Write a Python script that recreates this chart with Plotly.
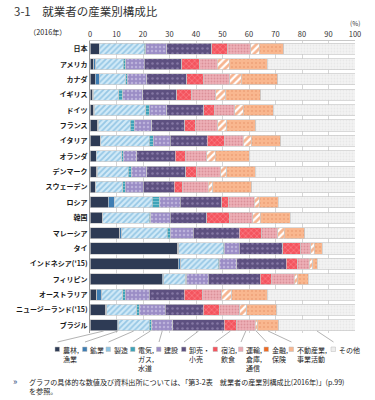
import plotly.graph_objects as go

countries = ["日本", "アメリカ", "カナダ", "イギリス", "ドイツ", "フランス", "イタリア",
             "オランダ", "デンマーク", "スウェーデン", "ロシア", "韓国", "マレーシア", "タイ",
             "インドネシア('15)", "フィリピン", "オーストラリア", "ニュージーランド('15)", "ブラジル"]

agri      = [3.4, 1.5, 1.9, 1.0, 1.4, 2.9, 4.0, 2.3, 2.6, 1.9, 6.9, 4.8, 11.3, 33.1, 33.3, 27.3, 2.5, 6.0, 10.3]
mining    = [0.1, 0.6, 1.5, 0.2, 0.2, 0.2, 0.1, 0.1, 0.1, 0.2, 2.2, 0.1, 0.7, 0.3, 0.9, 0.5, 1.9, 0.3, 0.4]
manuf     = [16.9, 10.5, 10.1, 9.7, 19.4, 12.0, 18.3, 9.6, 11.8, 10.2, 14.4, 17.4, 17.2, 16.9, 14.2, 8.4, 7.9, 11.3, 11.6]
utility   = [0.7, 0.9, 0.5, 1.4, 1.3, 1.6, 1.5, 0.6, 1.0, 1.0, 2.9, 0.6, 1.0, 0.4, 0.4, 0.3, 1.0, 0.9, 1.0]
constr    = [7.8, 6.9, 7.5, 7.6, 6.6, 6.6, 6.3, 5.0, 5.9, 6.8, 7.6, 7.3, 8.8, 5.6, 6.5, 8.1, 9.0, 9.8, 7.9]
wholesale = [17.0, 14.2, 15.0, 12.8, 14.1, 12.5, 14.1, 14.5, 14.8, 11.7, 15.7, 13.8, 17.3, 16.4, 18.7, 19.6, 13.3, 14.5, 19.5]
accom     = [6.1, 6.9, 6.5, 5.7, 3.9, 4.1, 6.3, 4.1, 4.1, 3.2, 2.5, 8.8, 8.5, 6.8, 4.2, 4.4, 6.9, 5.9, 4.6]
transport = [8.6, 6.5, 9.8, 9.0, 7.8, 8.3, 7.3, 7.8, 9.0, 9.6, 9.7, 8.6, 6.0, 3.8, 4.6, 8.5, 7.2, 7.9, 7.0]
finance   = [3.3, 4.5, 4.2, 3.8, 3.2, 3.4, 2.9, 3.2, 2.3, 1.7, 2.0, 2.8, 2.5, 1.3, 1.2, 1.1, 3.8, 2.5, 0.8]
realestate= [9.3, 14.4, 13.8, 13.2, 11.3, 10.9, 11.1, 12.9, 10.7, 14.7, 7.2, 11.3, 7.8, 3.1, 1.8, 4.2, 13.4, 11.3, 8.2]
other     = [26.8, 33.1, 29.2, 35.6, 30.8, 37.5, 28.1, 39.9, 37.7, 39.0, 28.9, 24.5, 18.9, 12.3, 14.2, 17.6, 33.1, 29.6, 28.7]

legend_labels = [["農林,", "漁業"], ["鉱業"], ["製造"], ["電気,", "ガス,", "水道"], ["建設"],
                 ["卸売・", "小売"], ["宿泊,", "飲食"], ["運輸,", "倉庫,", "通信"], ["金融,", "保険"],
                 ["不動産業,", "事業活動"], ["その他"]]
xticks = [0, 10, 20, 30, 40, 50, 60, 70, 80, 90, 100]

series = [agri, mining, manuf, utility, constr, wholesale, accom, transport, finance, realestate, other]
styles = [
    dict(color="#2E3B55"),
    dict(color="#3E7DB3"),
    dict(color="#BFE0F2", pattern=dict(shape="/", fgcolor="#5AA4D4", bgcolor="#D2EAF7", size=4, solidity=0.45)),
    dict(color="#3FA3B8", pattern=dict(shape="-", fgcolor="#A9DCE5", bgcolor="#3FA3B8", size=3, solidity=0.35)),
    dict(color="#9B8DC6", pattern=dict(shape=".", fgcolor="#DAD3EE", bgcolor="#9B8DC6", size=4, solidity=0.3)),
    dict(color="#5D5080", pattern=dict(shape=".", fgcolor="#A99DC6", bgcolor="#5D5080", size=5, solidity=0.2)),
    dict(color="#F4545E", pattern=dict(shape="x", fgcolor="#FFB3B8", bgcolor="#F4545E", size=4, solidity=0.3)),
    dict(color="#EBA7AF", pattern=dict(shape=".", fgcolor="#C9707C", bgcolor="#EDB0B7", size=3, solidity=0.3)),
    dict(color="#EE6A22", pattern=dict(shape="/", fgcolor="#EE6A22", bgcolor="#FFFFFF", size=5, solidity=0.55)),
    dict(color="#F9B78F", pattern=dict(shape=".", fgcolor="#E48E62", bgcolor="#F9B78F", size=4, solidity=0.2)),
    dict(color="#F2F2F2", pattern=dict(shape=".", fgcolor="#DEDEDE", bgcolor="#F3F3F3", size=3, solidity=0.3)),
]
square_colors = ["#2E3B55", "#3E7DB3", "#8CC3E3", "#3FA3B8", "#9B8DC6", "#5D5080",
                 "#F4545E", "#EBA7AF", "#EE6A22", "#F9B78F", "#EEEEEE"]
square_px = [55, 82.5, 106, 130.5, 156.5, 181.5, 213, 238.5, 264, 289, 331]

W, H = 375, 400
L, R, T, B = 90, 20, 41, 67
PW, PH = W - L - R, H - T - B
def px(x):
    return (x - L) / PW
def py(y):
    return (H - B - y) / PH

JP = "Noto Sans CJK JP"
fig = go.Figure()
for vals, st in zip(series, styles):
    marker = dict(line=dict(color="#C9C9C9", width=0.7))
    marker.update(st)
    fig.add_trace(go.Bar(y=countries, x=vals, orientation="h", marker=marker,
                         showlegend=False, hoverinfo="skip"))

fig.update_layout(
    width=W, height=H, barmode="stack", bargap=0.28,
    margin=dict(l=L, r=R, t=T, b=B, autoexpand=False),
    paper_bgcolor="white", plot_bgcolor="white",
    font=dict(family=JP, color="#222"),
    xaxis=dict(range=[0, 100], side="top", tickvals=xticks, ticktext=[str(v) for v in xticks],
               showgrid=True, gridcolor="#D6D6D6", gridwidth=1, zeroline=False,
               showline=True, linecolor="#C8C8C8", ticks="", tickfont=dict(size=7.5, color="#333"),
               fixedrange=True),
    yaxis=dict(autorange="reversed", showline=True, linecolor="#9A9A9A", ticks="",
               tickfont=dict(size=7, color="#1A1A1A", weight="bold"), fixedrange=True),
)

shapes = []
annotations = []
# leader lines from Brazil segments to legend entries
br = [s[-1] for s in series]
cum = 0
for i, v in enumerate(br):
    mid = cum + v / 2
    cum += v
    shapes.append(dict(type="line", xref="paper", yref="paper",
                       x0=mid / 100, y0=py(331), x1=px(square_px[i] + 2.5), y1=py(342),
                       line=dict(color="#A0A0A0", width=0.8)))
    shapes.append(dict(type="rect", xref="paper", yref="paper",
                       x0=px(square_px[i]), x1=px(square_px[i] + 4.5),
                       y0=py(351.5), y1=py(347), fillcolor=square_colors[i],
                       line=dict(color="#BBBBBB", width=0.5)))
    for j, line in enumerate(legend_labels[i]):
        annotations.append(dict(xref="paper", yref="paper", x=px(square_px[i] + 5.5), y=py(349.5 + 9 * j),
                                text=line, showarrow=False, xanchor="left", yanchor="middle",
                                font=dict(size=7, color="#222", family=JP)))

annotations += [
    dict(xref="paper", yref="paper", x=px(12), y=py(11), text="3-1　就業者の産業別構成比",
         showarrow=False, xanchor="left", yanchor="middle", font=dict(size=11.5, color="#333", family=JP)),
    dict(xref="paper", yref="paper", x=px(27), y=py(32.5), text="（2016年）",
         showarrow=False, xanchor="left", yanchor="middle", font=dict(size=7.2, color="#222", family=JP)),
    dict(xref="paper", yref="paper", x=px(355), y=py(23.5), text="(%)",
         showarrow=False, xanchor="center", yanchor="middle", font=dict(size=6.5, color="#333", family=JP)),
    dict(xref="paper", yref="paper", x=px(11), y=py(381.5), text="»",
         showarrow=False, xanchor="left", yanchor="middle", font=dict(size=9, color="#2B4A7A", family=JP)),
    dict(xref="paper", yref="paper", x=px(27), y=py(381.5),
         text="グラフの具体的な数値及び資料出所については、「第3-2表　就業者の産業別構成比(2016年)」(p.99)",
         showarrow=False, xanchor="left", yanchor="middle", font=dict(size=7.1, color="#222", family=JP)),
    dict(xref="paper", yref="paper", x=px(27), y=py(391), text="を参照。",
         showarrow=False, xanchor="left", yanchor="middle", font=dict(size=7.1, color="#222", family=JP)),
]
fig.update_layout(shapes=shapes, annotations=annotations)
fig.write_html("out.html", config={"displayModeBar": False},
               post_script="document.body.style.margin='0';document.body.style.overflow='hidden';")
